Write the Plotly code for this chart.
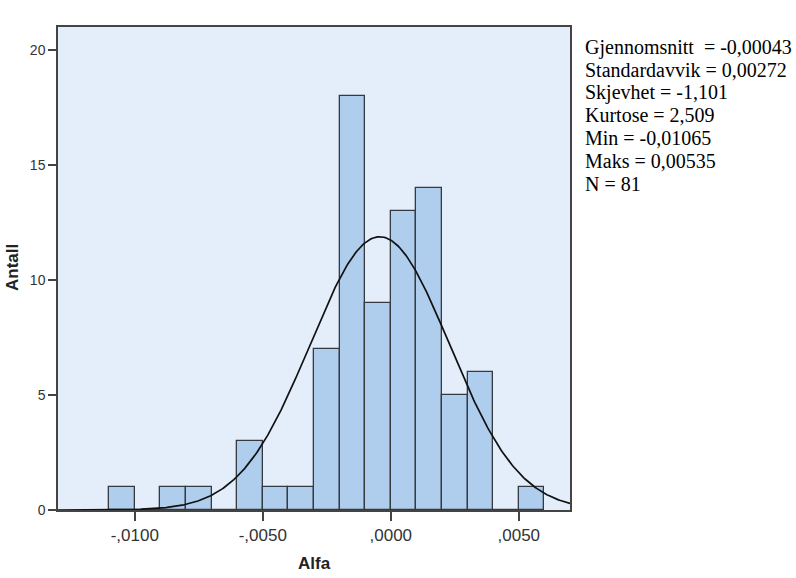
import numpy as np
import plotly.graph_objects as go

# Histogram bins (lower edges) and counts
bin_lower = [-0.011, -0.010, -0.009, -0.008, -0.007, -0.006, -0.005, -0.004,
             -0.003, -0.002, -0.001, 0.000, 0.001, 0.002, 0.003, 0.004, 0.005]
counts = [1, 0, 1, 1, 0, 3, 1, 1, 7, 18, 9, 13, 14, 5, 6, 0, 1]
bin_width = 0.001

# Summary statistics
mean_val = -0.00043
sd_val = 0.00272
n_obs = 81
stats_lines = [
    "Gjennomsnitt  = -0,00043",
    "Standardavvik = 0,00272",
    "Skjevhet = -1,101",
    "Kurtose = 2,509",
    "Min = -0,01065",
    "Maks = 0,00535",
    "N = 81",
]

x_tickvals = [-0.010, -0.005, 0.0, 0.005]
x_ticktext = ["-,0100", "-,0050", ",0000", ",0050"]
y_tickvals = [0, 5, 10, 15, 20]

centers = [b + bin_width / 2 for b in bin_lower]

fig = go.Figure()
fig.add_trace(go.Bar(
    x=centers, y=counts, width=bin_width,
    marker=dict(color="#AFCDEC", line=dict(color="#353A40", width=1.3)),
    showlegend=False,
))

# Normal curve fitted from the reported mean / sd
xs = np.linspace(-0.013, 0.007, 400)
ys = n_obs * bin_width / (sd_val * np.sqrt(2 * np.pi)) * np.exp(-0.5 * ((xs - mean_val) / sd_val) ** 2)
fig.add_trace(go.Scatter(x=xs, y=ys, mode="lines",
                         line=dict(color="#111111", width=1.7), showlegend=False))

L, R, T, B = 58, 226, 27, 68
plot_w = 796 - L - R
plot_h = 578 - T - B

for i, line in enumerate(stats_lines):
    cy = 47 + 22.8 * i
    fig.add_annotation(
        x=(583 - L) / plot_w, y=1 - (cy - T) / plot_h,
        xref="paper", yref="paper", showarrow=False,
        text=line, xanchor="left", yanchor="middle", align="left",
        font=dict(family="Liberation Serif", size=20, color="#000000"),
    )

# Axis titles placed at fixed pixel positions
fig.add_annotation(
    x=(12 - L) / plot_w, y=1 - (268 - T) / plot_h,
    xref="paper", yref="paper", showarrow=False,
    text="<b>Antall</b>", textangle=-90, xanchor="center", yanchor="middle",
    font=dict(family="Liberation Sans", size=17, color="#222222"),
)
fig.add_annotation(
    x=(314 - L) / plot_w, y=1 - (563 - T) / plot_h,
    xref="paper", yref="paper", showarrow=False,
    text="<b>Alfa</b>", xanchor="center", yanchor="middle",
    font=dict(family="Liberation Sans", size=17, color="#222222"),
)

fig.update_layout(
    width=796, height=578,
    margin=dict(l=L, r=R, t=T, b=B),
    paper_bgcolor="white",
    plot_bgcolor="#E3EEFA",
    bargap=0,
    xaxis=dict(
        range=[-0.013, 0.007], tickvals=x_tickvals, ticktext=x_ticktext,
        showgrid=False, zeroline=False, automargin=False,
        showline=True, linecolor="#444444", linewidth=1.5, mirror=True,
        ticks="outside", ticklen=9, tickwidth=1.5, tickcolor="#444444",
        tickfont=dict(family="Liberation Sans", size=17, color="#333333"),
    ),
    yaxis=dict(
        range=[0, 21], tickvals=y_tickvals,
        showgrid=False, zeroline=False, automargin=False,
        showline=True, linecolor="#444444", linewidth=1.5, mirror=True,
        ticks="outside", ticklen=8, tickwidth=1.5, tickcolor="#444444",
        tickfont=dict(family="Liberation Sans", size=14, color="#333333"),
    ),
)

fig.write_html("out.html")
